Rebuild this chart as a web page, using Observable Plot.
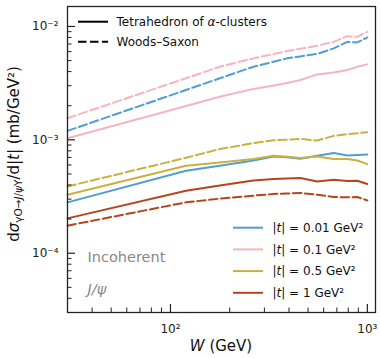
<!DOCTYPE html>
<html><head><meta charset="utf-8">
<script src="https://cdn.jsdelivr.net/npm/d3@7"></script>
<script src="https://cdn.jsdelivr.net/npm/@observablehq/plot@0.6"></script>
<style>
body{margin:0;background:#fff}
svg{font-family:"DejaVu Sans",sans-serif}
</style>
</head><body><div id="chart"></div>
<script>
// Centre-of-mass energy W (GeV)
const W = [30, 120, 178, 264, 334, 391, 457, 556, 675, 791, 889, 1000];
// |t| values and colours
const tLabels = ["0.01", "0.1", "0.5", "1"];
const colors = ["#529DD3", "#F5B5C0", "#C9B13F", "#B5461B"];
// Tetrahedron of alpha-clusters (solid)
const ta001 = [2.81e-4, 5.34e-4, 5.91e-4, 6.58e-4, 7.13e-4, 7.02e-4, 6.81e-4, 7.23e-4, 7.64e-4, 7.28e-4, 7.34e-4, 7.43e-4];
const ta01  = [1.031e-3, 1.991e-3, 2.403e-3, 2.814e-3, 3.010e-3, 3.172e-3, 3.370e-3, 3.776e-3, 3.924e-3, 4.127e-3, 4.404e-3, 4.633e-3];
const ta05  = [3.28e-4, 5.91e-4, 6.32e-4, 6.77e-4, 7.23e-4, 7.09e-4, 6.90e-4, 7.13e-4, 6.77e-4, 6.77e-4, 6.58e-4, 6.11e-4];
const ta1   = [2.03e-4, 3.56e-4, 3.96e-4, 4.38e-4, 4.51e-4, 4.56e-4, 4.60e-4, 4.30e-4, 4.45e-4, 4.33e-4, 4.36e-4, 4.08e-4];
// Woods-Saxon (dashed)
const ws001 = [1.200e-3, 2.753e-3, 3.489e-3, 4.414e-3, 4.884e-3, 5.232e-3, 5.446e-3, 5.729e-3, 6.404e-3, 7.320e-3, 7.231e-3, 8.001e-3];
const ws01  = [1.552e-3, 3.495e-3, 4.414e-3, 5.232e-3, 5.719e-3, 6.064e-3, 6.366e-3, 6.765e-3, 7.320e-3, 8.216e-3, 8.100e-3, 8.963e-3];
const ws05  = [3.88e-4, 6.95e-4, 8.29e-4, 9.35e-4, 9.90e-4, 1.004e-3, 1.020e-3, 9.86e-4, 1.084e-3, 1.122e-3, 1.141e-3, 1.169e-3];
const ws1   = [1.75e-4, 2.81e-4, 3.03e-4, 3.22e-4, 3.33e-4, 3.36e-4, 3.40e-4, 3.28e-4, 3.13e-4, 3.11e-4, 3.13e-4, 2.92e-4];
// axis ticks
const xMajor = [100, 1000];
const yMajor = [1e-4, 1e-3, 1e-2];

const taSeries = [ta001, ta01, ta05, ta1];
const wsSeries = [ws001, ws01, ws05, ws1];
const rows = [];
tLabels.forEach((t, i) => {
  W.forEach((w, j) => rows.push({W: w, v: taSeries[i][j], t, model: "TA"}));
  W.forEach((w, j) => rows.push({W: w, v: wsSeries[i][j], t, model: "WS"}));
});

const xDomain = [30, 1100], yDomain = [3e-5, 1.5e-2];
const xMinor = d3.scaleLog().domain(xDomain).ticks().filter(d => !xMajor.includes(d));
const yMinor = d3.scaleLog().domain(yDomain).ticks().filter(d => !yMajor.some(m => Math.abs(m - d) / m < 1e-6));

const sup = {"-": "\u207B", "0": "\u2070", "1": "\u00B9", "2": "\u00B2", "3": "\u00B3", "4": "\u2074", "5": "\u2075", "6": "\u2076", "7": "\u2077", "8": "\u2078", "9": "\u2079"};
const fmt = d => "10" + String(Math.round(Math.log10(d))).split("").map(c => sup[c]).join("");
const dash = "8.5,3.5";

const chart = Plot.plot({
  width: 380, height: 358,
  marginLeft: 67, marginRight: 5, marginTop: 6, marginBottom: 46,
  style: {fontFamily: "DejaVu Sans", fontSize: "12px", color: "#222", background: "#fff"},
  x: {type: "log", domain: xDomain, label: null},
  y: {type: "log", domain: yDomain, label: null},
  color: {domain: tLabels, range: colors},
  marks: [
    Plot.line(rows.filter(d => d.model === "TA"), {x: "W", y: "v", z: "t", stroke: "t", strokeWidth: 2}),
    Plot.line(rows.filter(d => d.model === "WS"), {x: "W", y: "v", z: "t", stroke: "t", strokeWidth: 2, strokeDasharray: dash}),
    Plot.axisX(xMajor, {tickSize: 8, dy: -8, fill: "none", label: null, stroke: "#222", strokeWidth: 1.2}),
    Plot.axisX(xMinor, {tickSize: 4.5, dy: -4.5, fill: "none", label: null, stroke: "#222", strokeWidth: 1}),
    Plot.axisX(xMajor, {tickSize: 0, tickPadding: 12, tickFormat: fmt, label: null, fontSize: 12, fill: "#222"}),
    Plot.axisY(yMajor, {tickSize: 8, dx: 8, fill: "none", label: null, stroke: "#222", strokeWidth: 1.2}),
    Plot.axisY(yMinor, {tickSize: 4.5, dx: 4.5, fill: "none", label: null, stroke: "#222", strokeWidth: 1}),
    Plot.axisY(yMajor, {tickSize: 0, tickPadding: 9, tickFormat: fmt, label: null, fontSize: 12, fill: "#222"}),
    Plot.frame({stroke: "#222", strokeWidth: 1.3})
  ]
});
document.getElementById("chart").append(chart);

const svg = d3.select(chart);
// style legend
const leg1 = svg.append("g").attr("font-size", 12).attr("fill", "#111").attr("text-anchor", "start");
[["Tetrahedron of ", "\u03B1", "-clusters", null, 21.7], ["Woods\u2013Saxon", "", "", dash, 41.7]].forEach(([a, b, c, da, y]) => {
  leg1.append("line").attr("x1", 78).attr("x2", 108).attr("y1", y).attr("y2", y)
    .attr("stroke", "#000").attr("stroke-width", 2).attr("stroke-dasharray", da);
  const t = leg1.append("text").attr("x", 116.5).attr("y", y).attr("dy", "0.35em");
  t.append("tspan").text(a);
  if (b) t.append("tspan").attr("font-style", "italic").text(b);
  if (c) t.append("tspan").text(c);
});
// colour legend
const leg2 = svg.append("g").attr("font-size", 12).attr("fill", "#111").attr("text-anchor", "start");
tLabels.forEach((t, i) => {
  const y = 227.7 + i * 21.7;
  leg2.append("line").attr("x1", 233).attr("x2", 263).attr("y1", y).attr("y2", y)
    .attr("stroke", colors[i]).attr("stroke-width", 2);
  const tx = leg2.append("text").attr("x", 272.5).attr("y", y).attr("dy", "0.35em");
  tx.append("tspan").text("|");
  tx.append("tspan").attr("font-style", "italic").text("t");
  tx.append("tspan").text("| = " + t + " GeV\u00B2");
});
// annotation
const ann = svg.append("g").attr("text-anchor", "start").attr("font-size", 14.5).attr("fill", "#888");
ann.append("text").attr("x", 87.5).attr("y", 262).text("Incoherent");
ann.append("text").attr("x", 87.5).attr("y", 294).attr("font-style", "italic").text("J/\u03C8");
// axis labels
const xl = svg.append("text").attr("x", 221).attr("y", 351).attr("text-anchor", "middle").attr("font-size", 15).attr("fill", "#111");
xl.append("tspan").attr("font-style", "italic").text("W");
xl.append("tspan").text(" (GeV)");
const yl = svg.append("text").attr("transform", "translate(18.5,154) rotate(-90)").attr("text-anchor", "middle").attr("font-size", 15).attr("fill", "#111");
yl.append("tspan").text("d");
yl.append("tspan").attr("font-style", "italic").text("\u03C3");
yl.append("tspan").attr("font-size", 10.5).attr("dy", 3).text("\u03B3O\u2192");
yl.append("tspan").attr("font-size", 10.5).attr("font-style", "italic").text("J");
yl.append("tspan").attr("font-size", 10.5).text("/");
yl.append("tspan").attr("font-size", 10.5).attr("font-style", "italic").text("\u03C8");
yl.append("tspan").attr("font-size", 10.5).text("Y");
yl.append("tspan").attr("dy", -3).text("/d|");
yl.append("tspan").attr("font-style", "italic").text("t");
yl.append("tspan").text("| (mb/GeV\u00B2)");
</script>
</body></html>
